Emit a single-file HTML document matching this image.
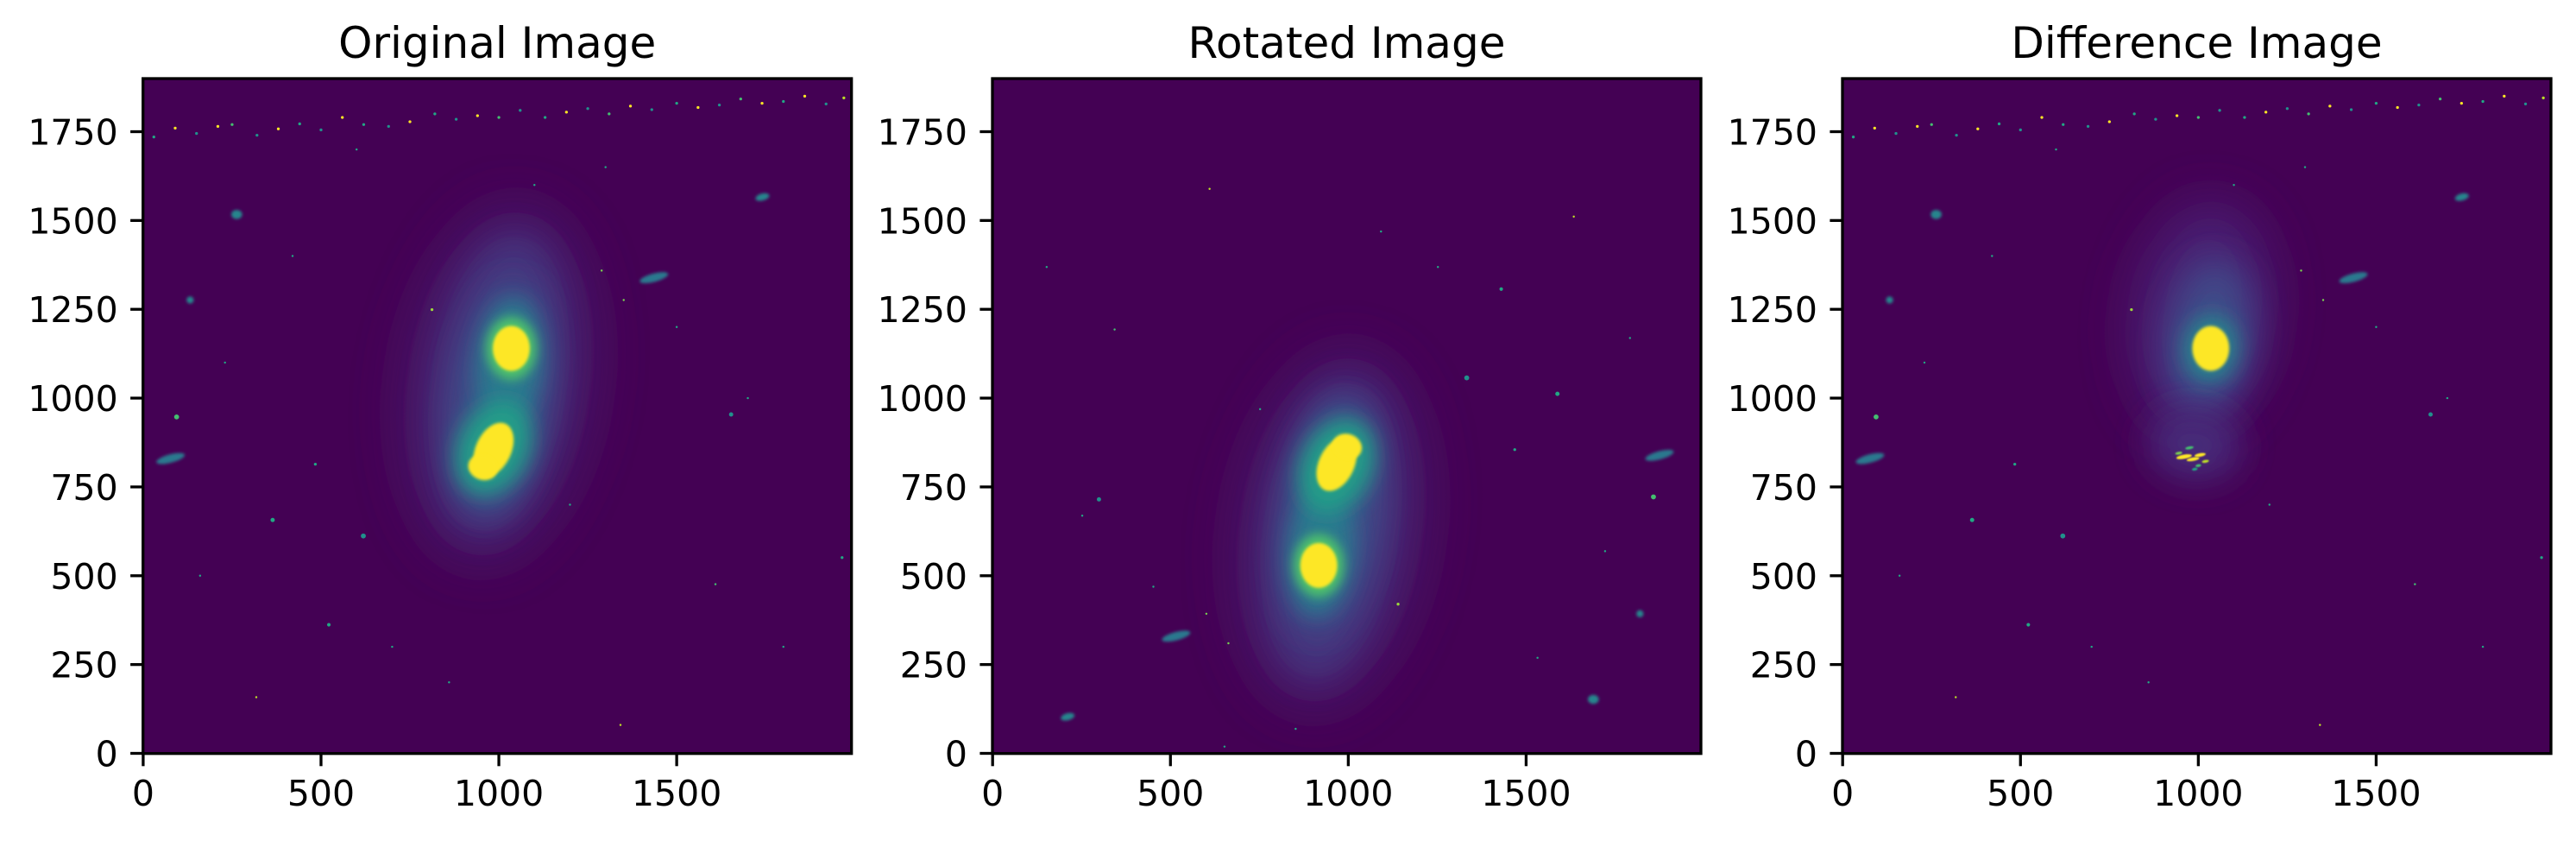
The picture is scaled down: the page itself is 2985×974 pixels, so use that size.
<!DOCTYPE html>
<html><head><meta charset="utf-8">
<style>
html,body{margin:0;padding:0;background:#fff;}
svg{display:block;}
text{font-family:"DejaVu Sans","Liberation Sans",sans-serif;fill:#000;}
</style></head>
<body>
<svg id="fig" width="2985" height="974" viewBox="0 0 2985 974" xmlns="http://www.w3.org/2000/svg">
<defs>
<filter id="b30" x="-50%" y="-50%" width="200%" height="200%"><feGaussianBlur stdDeviation="30"/></filter>
<filter id="b20" x="-50%" y="-50%" width="200%" height="200%"><feGaussianBlur stdDeviation="20"/></filter>
<filter id="b12" x="-50%" y="-50%" width="200%" height="200%"><feGaussianBlur stdDeviation="12"/></filter>
<filter id="b6" x="-50%" y="-50%" width="200%" height="200%"><feGaussianBlur stdDeviation="6"/></filter>
<filter id="b2" x="-50%" y="-50%" width="200%" height="200%"><feGaussianBlur stdDeviation="1.5"/></filter>
<filter id="b1" x="-50%" y="-50%" width="200%" height="200%"><feGaussianBlur stdDeviation="0.7"/></filter>
</defs>
</svg>
<script>
// ---- data (image coordinates, pixels of the 1992x1900 image) ----
const panelTitles = ["Original Image", "Rotated Image", "Difference Image"];
const xTicks = [0, 500, 1000, 1500];
const yTicks = [0, 250, 500, 750, 1000, 1250, 1500, 1750];
const imgW = 1992;
const imgH = 1900;
// galaxy halo layers in the original image
const haloX = [1000, 1000, 1005, 1030, 985, 1035];
const haloY = [1040, 1040, 1000, 1100, 860, 1140];
const haloRx = [260, 180, 120, 90, 100, 70];
const haloRy = [500, 420, 320, 180, 140, 88];
const haloLevel = [0.07, 0.15, 0.26, 0.4, 0.55, 0.72];
const haloAngle = [8, 8, 8, 5, 25, 0];
// saturated cores in the original
const coreX = [1035, 985, 955];
const coreY = [1140, 855, 805];
const coreRx = [52, 50, 42];
const coreRy = [63, 80, 35];
const coreAngle = [0, 25, 20];
// field objects (stars / small galaxies)
const starX = [263,132,94,77,1741,1436,364,619,522,484,1653,812,1289,1351,318,1342,1609,1965,230,700,1100,1500,860,1200,420,1800,160,1700,600,1300];
const starY = [1517,1276,947,830,1566,1339,657,612,362,814,954,1249,1359,1276,158,80,476,551,1100,300,1600,1200,200,700,1400,300,500,1000,1700,1650];
const starSize = [14,10,7,22,14,22,6,7,5,4,6,4,3,3,3,3,3,4,3,3,3,3,3,3,3,3,3,3,3,3];
const starLevel = [0.45,0.45,0.7,0.4,0.45,0.4,0.6,0.5,0.6,0.6,0.5,0.85,0.8,0.8,0.9,0.9,0.7,0.6,0.6,0.6,0.6,0.6,0.6,0.6,0.6,0.6,0.6,0.6,0.6,0.6];
const starStretch = [1.2,1,1,3.5,2,3.5,1,1,1,1,1,1,1,1,1,1,1,1,1,1,1,1,1,1,1,1,1,1,1,1];
// noisy band of hot pixels near the top of original/difference
const bandX = [30,90,150,210,250,320,380,440,500,560,620,690,750,820,880,940,1000,1060,1130,1190,1250,1310,1370,1430,1500,1560,1620,1680,1740,1800,1860,1920,1970];
const bandY = [1735,1760,1745,1765,1770,1740,1758,1772,1755,1790,1770,1765,1778,1800,1785,1795,1790,1810,1790,1805,1815,1800,1822,1812,1830,1818,1825,1842,1830,1835,1850,1828,1845];
const bandLevel = [0.6,1,0.5,1,0.7,0.5,1,0.6,0.5,1,0.6,0.5,1,0.6,0.5,1,0.7,0.5,0.6,1,0.5,0.7,1,0.5,0.6,1,0.5,0.7,1,0.6,1,0.5,0.9];
// rotation center (image was rotated 180 deg)
const rotSumX = [1952];
const rotSumY = [1669];
// difference image halo (residual upper half) and speckles
const diffHaloX = [1010, 1030, 1035, 990];
const diffHaloY = [1230, 1170, 1140, 870];
const diffHaloRx = [190, 120, 75, 130];
const diffHaloRy = [320, 220, 95, 100];
const diffHaloLevel = [0.1, 0.22, 0.45, 0.12];
const speckX = [960, 985, 1005, 1020, 975, 945, 1000, 990];
const speckY = [835, 828, 840, 822, 860, 845, 810, 800];
const speckRx = [22, 18, 16, 10, 12, 10, 8, 8];
const speckRy = [6, 5, 5, 4, 4, 4, 4, 4];
const speckLevel = [1, 1, 1, 0.9, 0.7, 0.8, 0.7, 0.6];

// ---- layout ----
const panelLeft = [165.7, 1150, 2135];
const pw = 821, axTop = 91, axBottom = 872.7;
const NS = "http://www.w3.org/2000/svg";
const svg = document.getElementById('fig');
const stops = [[68,1,84],[72,36,117],[65,68,135],[53,95,141],[42,120,142],[33,145,140],[34,168,132],[68,191,112],[122,209,81],[189,223,38],[253,231,37]];
function viridis(v){v=Math.max(0,Math.min(1,v))*10;const i=Math.min(9,Math.floor(v));const f=v-i;const a=stops[i],b=stops[i+1];
  return 'rgb('+a.map((c,k)=>Math.round(c+(b[k]-c)*f)).join(',')+')';}
function mk(tag, attrs, parent){const e=document.createElementNS(NS,tag);for(const k in attrs)e.setAttribute(k,attrs[k]);(parent||svg).appendChild(e);return e;}
function sx(p,x){return panelLeft[p]+(x+0.5)*pw/imgW;}
function sy(y){return axBottom-(y+0.5)*(axBottom-axTop)/imgH;}
function sr(r){return r*pw/imgW;}

function ell(p,g,x,y,rx,ry,lvl,ang,filt,name){
  const cx=sx(p,x), cy=sy(y);
  const e=mk('ellipse',{cx:cx,cy:cy,rx:sr(rx),ry:sr(ry),fill:viridis(lvl),transform:`rotate(${ang} ${cx} ${cy})`},g);
  if(filt) e.setAttribute('filter',`url(#${filt})`);
  
  
  return e;
}

for(let p=0;p<3;p++){
  const clip=mk('clipPath',{id:'clip'+p},svg.querySelector('defs'));
  mk('rect',{x:panelLeft[p],y:axTop,width:pw,height:axBottom-axTop},clip);
  const g=mk('g',{'clip-path':`url(#clip${p})`});
  
  
  const bg=mk('rect',{x:panelLeft[p],y:axTop,width:pw,height:axBottom-axTop,fill:'#440154'},g);
  
  
  const rot = p===1;
  const tx = x => rot ? rotSumX[0]-x : x;
  const ty = y => rot ? rotSumY[0]-y : y;
  if(p<2){
    const blurs=['b30','b20','b20','b12','b12','b6'];
    for(let i=0;i<haloX.length;i++) ell(p,g,tx(haloX[i]),ty(haloY[i]),haloRx[i],haloRy[i],haloLevel[i],haloAngle[i],blurs[i],'galaxy-halo');
    for(let i=0;i<coreX.length;i++) ell(p,g,tx(coreX[i]),ty(coreY[i]),coreRx[i],coreRy[i],1,coreAngle[i],'b2','galaxy-core');
  } else {
    const blurs=['b30','b20','b12','b20'];
    for(let i=0;i<diffHaloX.length;i++) ell(p,g,diffHaloX[i],diffHaloY[i],diffHaloRx[i],diffHaloRy[i],diffHaloLevel[i],8,blurs[i],'residual-halo');
    ell(p,g,coreX[0],coreY[0],coreRx[0],coreRy[0],1,0,'b2','residual-core');
    for(let i=0;i<speckX.length;i++) ell(p,g,speckX[i],speckY[i],speckRx[i],speckRy[i],speckLevel[i],-10,'b1','residual-speckle');
  }
  for(let i=0;i<starX.length;i++){
    ell(p,g,tx(starX[i]),ty(starY[i]),starSize[i]*Math.sqrt(starStretch[i]),starSize[i]/Math.sqrt(starStretch[i]),starLevel[i],starStretch[i]>1.5?-15:0,starSize[i]>8?'b2':null,'field-object');
  }
  if(p!==1){
    for(let i=0;i<bandX.length;i++) ell(p,g,bandX[i],bandY[i],4,4,bandLevel[i],0,null,'hot-pixel');
  }
  const fr=mk('rect',{x:panelLeft[p],y:axTop,width:pw,height:axBottom-axTop,fill:'none',stroke:'#000','stroke-width':3.3});
  
  
  const t=mk('text',{x:panelLeft[p]+pw/2,y:67,'text-anchor':'middle','font-size':50});
  t.textContent=panelTitles[p];
  
  
  for(const v of xTicks){
    const x=sx(p,v);
    const l=mk('line',{x1:x,x2:x,y1:axBottom,y2:axBottom+14.6,stroke:'#000','stroke-width':3.3});
    
    
    const tt=mk('text',{x:x,y:933,'text-anchor':'middle','font-size':41});
    tt.textContent=v;
    
    
  }
  for(const v of yTicks){
    const y=sy(v);
    const l=mk('line',{x1:panelLeft[p]-14.6,x2:panelLeft[p],y1:y,y2:y,stroke:'#000','stroke-width':3.3});
    
    
    const tt=mk('text',{x:panelLeft[p]-29,y:y+15,'text-anchor':'end','font-size':41});
    tt.textContent=v;
    
    
  }
}
</script>
</body></html>
